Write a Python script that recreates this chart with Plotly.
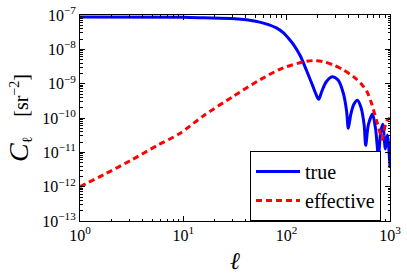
import plotly.graph_objects as go

# ---- data ----
ell_true = [1, 10, 15.8, 31.6, 50.1, 63.1, 79.4, 93.3, 107, 117, 135, 155, 178, 193, 204,
            219, 240, 275, 316, 355, 380, 395, 417, 447, 484, 525, 562, 582, 617, 676,
            724, 773, 813, 851, 902, 944, 1000]
cl_true = [8.7e-8, 8.6e-8, 8.3e-8, 7.8e-8, 6.6e-8, 5.5e-8, 4.2e-8, 3.0e-8, 1.9e-8, 1.35e-8,
           6.6e-9, 2.5e-9, 8.9e-10, 4.8e-10, 3.5e-10, 6.0e-10, 1.1e-9, 1.6e-9, 1.26e-9,
           5.0e-10, 1.6e-10, 5.0e-11, 1.26e-10, 2.5e-10, 3.3e-10, 2.0e-10, 6.3e-11, 1.6e-11,
           6.3e-11, 1.3e-10, 5.0e-11, 8.0e-12, 4.0e-11, 6.6e-11, 1.26e-11, 3.2e-11, 3.5e-12]

ell_eff = [1, 1.78, 3.16, 5.62, 9.33, 15.6, 30.5, 55.2, 92.9, 156, 188, 224, 283, 355, 443,
           525, 596, 665, 745, 813, 841, 880, 925, 1000]
cl_eff = [1.0e-12, 2.4e-12, 6.0e-12, 1.6e-11, 3.6e-11, 1.15e-10, 4.3e-10, 1.3e-9, 2.9e-9,
          4.5e-9, 4.7e-9, 4.4e-9, 3.5e-9, 2.5e-9, 1.6e-9, 1.0e-9, 6.0e-10, 2.6e-10, 7.9e-11,
          3.2e-11, 2.4e-11, 4.5e-11, 8.3e-11, 1.0e-10]

series_names = ["true", "effective"]

x_tick_vals = [1, 10, 100, 1000]
x_tick_text = ["10<sup>0</sup>", "10<sup>1</sup>", "10<sup>2</sup>", "10<sup>3</sup>"]
y_tick_vals = [1e-13, 1e-12, 1e-11, 1e-10, 1e-9, 1e-8, 1e-7]
y_tick_text = ["10<sup>−13</sup>", "10<sup>−12</sup>", "10<sup>−11</sup>", "10<sup>−10</sup>",
               "10<sup>−9</sup>", "10<sup>−8</sup>", "10<sup>−7</sup>"]

FONT = "Liberation Serif, DejaVu Serif, Times New Roman, serif"

fig = go.Figure()
fig.add_trace(go.Scatter(x=ell_true, y=cl_true, mode="lines", name=series_names[0],
                         line=dict(color="#0000ff", width=3, shape="spline", smoothing=0.8)))
fig.add_trace(go.Scatter(x=ell_eff, y=cl_eff, mode="lines", name=series_names[1],
                         line=dict(color="#ff0000", width=3, dash="6px,4px",
                                   shape="spline", smoothing=0.8)))

axis_common = dict(
    type="log", showgrid=False, zeroline=False, automargin=False,
    showline=True, linecolor="black", linewidth=1, mirror="allticks",
    ticks="inside", ticklen=5, tickwidth=1, tickcolor="black",
    tickmode="array", ticklabeloverflow="allow",
    tickfont=dict(family=FONT, size=16, color="black"),
    minor=dict(ticks="inside", ticklen=2.5, tickwidth=1, tickcolor="black",
               dtick="D1", showgrid=False),
)

fig.update_xaxes(range=[0, 3], tickvals=x_tick_vals, ticktext=x_tick_text,
                 title=dict(text="<i>ℓ</i>", font=dict(family=FONT, size=24, color="black"),
                            standoff=8),
                 **axis_common)
fig.update_yaxes(range=[-13, -7], tickvals=y_tick_vals, ticktext=y_tick_text,
                 title=dict(text="<span style='font-size:28px'><i>C</i></span><sub>ℓ</sub>"
                                 "\u00a0\u00a0\u00a0\u00a0[sr<sup>−2</sup>]",
                            font=dict(family=FONT, size=20, color="black"), standoff=8),
                 **axis_common)

fig.update_layout(
    template="none",
    width=407, height=276, autosize=False,
    margin=dict(l=80, r=17, t=15, b=55),
    paper_bgcolor="white", plot_bgcolor="white",
    font=dict(family=FONT, color="black"),
    legend=dict(x=(381 - 80) / 310, y=(221 - 221) / 206, xanchor="right", yanchor="bottom",
                bgcolor="white", bordercolor="black", borderwidth=1,
                font=dict(family=FONT, size=20, color="black"),
                itemwidth=44, tracegroupgap=0),
    showlegend=True,
)

# remove the page's default 8px body margin so the figure fills the window exactly
fig.write_html("out.html", config={"displayModeBar": False},
               post_script="document.body.style.margin='0';")
